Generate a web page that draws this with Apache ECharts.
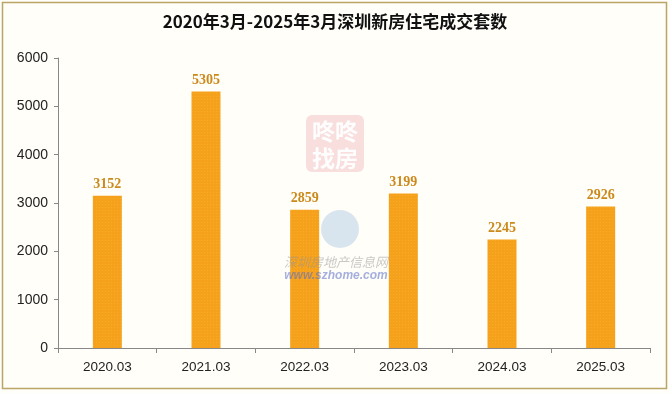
<!DOCTYPE html>
<html><head><meta charset="utf-8">
<script src="https://cdn.jsdelivr.net/npm/echarts@6/dist/echarts.min.js"></script>
<style>html,body{margin:0;padding:0;background:#fff;}#c{width:670px;height:393px;}</style>
</head><body><div id="c"></div>
<script>
const titleText = '2020年3月-2025年3月深圳新房住宅成交套数';
const categories = ['2020.03','2021.03','2022.03','2023.03','2024.03','2025.03'];
const values = [3152, 5305, 2859, 3199, 2245, 2926];
const yTicks = [0, 1000, 2000, 3000, 4000, 5000, 6000];

const chart = echarts.init(document.getElementById('c'), null, {renderer:'canvas'});
chart.setOption({
  backgroundColor: '#fffef9',
  animation: false,
  title: {
    text: titleText, left: 'center', top: 8,
    textStyle: {fontFamily: '"Noto Sans CJK SC"', fontWeight: 'bold', fontSize: 17, color: '#111'}
  },
  graphic: [
    {type:'rect', shape:{x:2.5,y:2.5,width:664,height:386}, style:{fill:null, stroke:'#b9a565', lineWidth:1.5}, silent:true, z:-1},
    {type:'rect', shape:{x:306,y:115,width:58,height:57,r:6}, style:{fill:'rgba(236,150,160,0.3)'}, silent:true, z:-1},
    {type:'text', style:{x:335,y:118,text:'咚咚\n找房', fill:'rgba(255,255,255,0.95)', font:'bold 23px "Noto Sans CJK SC"', align:'center', lineHeight:27}, silent:true, z:-1},
    {type:'circle', shape:{cx:340,cy:229,r:19}, style:{fill:'rgba(170,200,225,0.45)'}, silent:true, z:5},
    {type:'text', style:{x:336,y:256,text:'深圳房地产信息网', fill:'rgba(150,150,150,0.5)', font:'italic 13px "Noto Sans CJK SC"', align:'center'}, silent:true, z:5},
    {type:'text', style:{x:336,y:270,text:'www.szhome.com', fill:'rgba(90,110,200,0.55)', font:'italic bold 12px "Liberation Sans"', align:'center'}, silent:true, z:5}
  ],
  grid: {left: 58, right: 20, top: 58, bottom: 45},
  xAxis: {
    type: 'category', data: categories,
    axisLine: {lineStyle: {color: '#888', width: 1}},
    axisTick: {show: true, alignWithLabel: false, length: 5, lineStyle:{color:'#888'}},
    axisLabel: {color: '#222', fontSize: 13.5, fontFamily: '"Liberation Sans"', margin: 12}
  },
  yAxis: {
    type: 'value', min: 0, max: 6000, interval: 1000,
    axisLine: {show: true, lineStyle: {color: '#888', width: 1}},
    axisTick: {show: true, length: 4, inside: false, lineStyle:{color:'#888'}},
    splitLine: {show: false},
    axisLabel: {color: '#222', fontSize: 14, fontFamily: '"Liberation Sans"', margin: 10,
      formatter: v => yTicks.includes(v) ? String(v) : ''}
  },
  series: [{
    type: 'bar', data: values, barWidth: 29,
    itemStyle: {
      color: '#f5a11c',
      decal: {symbol:'circle', symbolSize:0.6, color:'rgba(255,225,120,0.7)', dashArrayX:[[1,2]], dashArrayY:[1,2], rotation:0}
    },
    label: {show: true, position: 'top', distance: 4, color: '#cc8a1c', fontSize: 14, fontWeight: 'bold',
      fontFamily: '"Liberation Serif", serif'}
  }]
});
</script></body></html>
